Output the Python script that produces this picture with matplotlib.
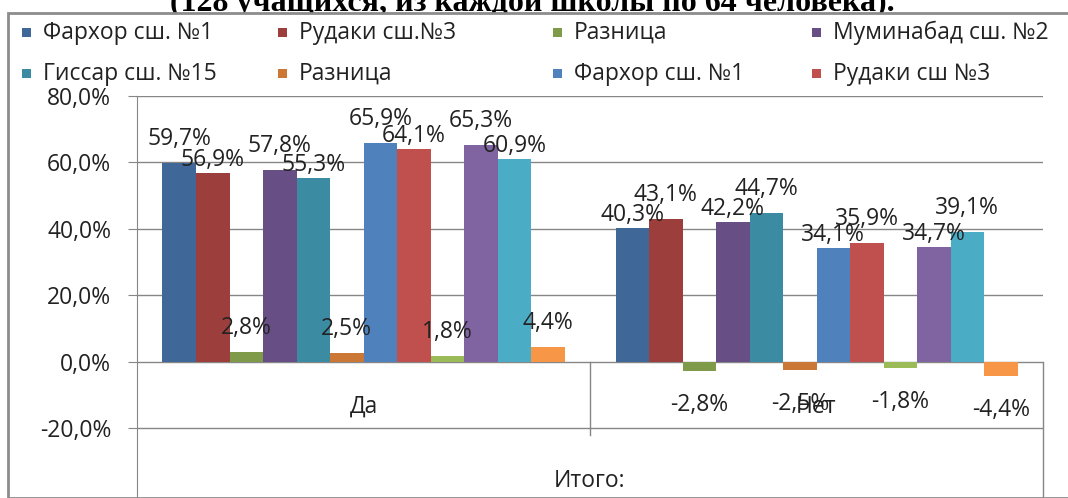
import numpy as np
import matplotlib.pyplot as plt
from matplotlib.patches import Rectangle

plt.rcParams["font.family"] = ["Open Sans", "DejaVu Sans"]
plt.rcParams["axes.unicode_minus"] = False

# --- data ---
categories = ["Да", "Нет"]
series_names = [
    "Фархор сш. №1", "Рудаки сш.№3", "Разница", "Муминабад сш. №2",
    "Гиссар сш. №15", "Разница", "Фархор сш. №1", "Рудаки сш №3",
    "Разница", "Муминабад сш. №2", "Гиссар сш. №15", "Разница",
]
da_values = [59.7, 56.9, 2.8, 57.8, 55.3, 2.5, 65.9, 64.1, 1.8, 65.3, 60.9, 4.4]
net_values = [40.3, 43.1, -2.8, 42.2, 44.7, -2.5, 34.1, 35.9, -1.8, 34.7, 39.1, -4.4]
colors = [
    "#3F6797", "#9C3E3B", "#7F9A48", "#674F85", "#3B8BA3", "#CB7735",
    "#4F81BD", "#C0504D", "#9BBB59", "#8064A2", "#4BACC6", "#F79646",
]
y_ticks = [-20, 0, 20, 40, 60, 80]
title = "(128 учащихся, из каждой школы по 64 человека)."
axis_title = "Итого:"
n_legend = 8

# --- layout helpers (pixels of a 1068x498 image) ---
W, H = 1068, 498
fig = plt.figure(figsize=(W / 100, H / 100), dpi=100)


def fx(px):
    return px / W


def fy(py):
    return 1 - py / H


text_c = "#222222"
grid_c = "#868686"
fs = 16.5

# title sits behind the chart, only its lower part shows
fig.text(fx(532), fy(11), title, ha="center", va="baseline", fontsize=23,
         fontweight="bold", family="Liberation Serif", color="black", zorder=-3)
fig.patches.append(Rectangle((fx(8), 0), 1, fy(13), transform=fig.transFigure,
                             facecolor="white", edgecolor="#8c8c8c",
                             linewidth=2, zorder=-2))

ax = fig.add_axes([fx(137), 0, fx(1043) - fx(137), fy(96)])
ax.set_facecolor("none")

x = np.arange(len(categories))
values = np.array([da_values, net_values])
n = len(series_names)
w = 33.5 / 453
handles = []
for i in range(n):
    xs = x + (i - (n - 1) / 2) * w
    b = ax.bar(xs, values[:, i], w, color=colors[i], zorder=2,
               label=series_names[i])
    handles.append(b)
    for j, v in enumerate(values[:, i]):
        if i % 3 == 2:
            off = 24 if v >= 0 else -34
        else:
            partner = i + 1 if i % 3 == 0 else i - 1
            off = 24 if v >= values[j, partner] else 13
        ax.annotate(f"{v:.1f}%".replace(".", ","), xy=(xs[j], v),
                    xytext=(0, off * 0.72), textcoords="offset points",
                    ha="center", va="center", fontsize=fs, color=text_c,
                    zorder=4)

ax.set_xlim(-0.5, 1.5)
ax.set_ylim(-41, 80)
ax.set_yticks(y_ticks)
ax.set_yticklabels([f"{t:.1f}%".replace(".", ",") for t in y_ticks])
ax.set_xticks([])
ax.yaxis.grid(True, color=grid_c, linewidth=1)
ax.set_axisbelow(True)
ax.tick_params(axis="y", direction="out", length=6.5, color=grid_c,
               labelsize=fs, labelcolor=text_c, pad=12)
for s in ["top", "right", "bottom"]:
    ax.spines[s].set_visible(False)
ax.spines["left"].set_color(grid_c)

# multi-level category axis
for xi, cat in zip(x, categories):
    ax.text(xi, -13.5, cat, ha="center", va="center", fontsize=fs, color=text_c)
ax.text(x.mean(), -36, axis_title, ha="center", va="center", fontsize=fs,
        color=text_c)
ax.plot([0.5, 0.5], [0, -22], color=grid_c, lw=1, clip_on=False)
ax.plot([1.5, 1.5], [0, -41], color=grid_c, lw=1, clip_on=False)

# legend, laid out row by row like the original
leg_cols = [22, 278, 553, 812]
leg_rows = [33, 74]
for k in range(n_legend):
    r, c = divmod(k, 4)
    mx, my = leg_cols[c], leg_rows[r]
    fig.patches.append(Rectangle((fx(mx), fy(my + 4.5)), 9 / W, 9 / H,
                                 transform=fig.transFigure,
                                 facecolor=handles[k].patches[0].get_facecolor(),
                                 edgecolor="none"))
    fig.text(fx(mx + 21), fy(my), series_names[k], ha="left", va="center",
             fontsize=fs, color=text_c)

fig.savefig("out.png", dpi=100)
